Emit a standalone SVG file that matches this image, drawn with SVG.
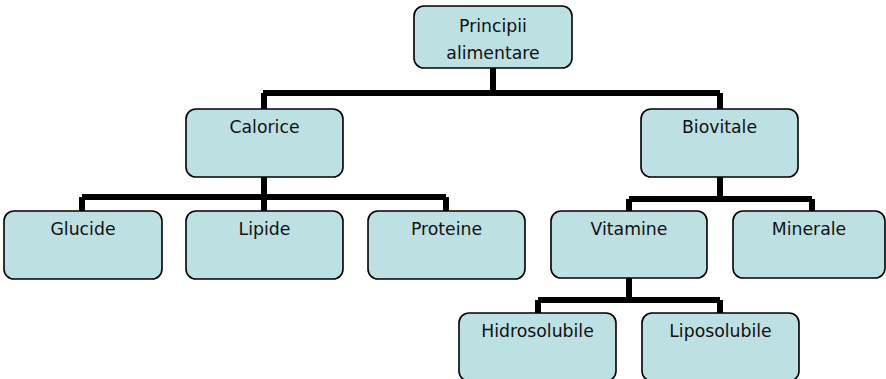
<svg xmlns="http://www.w3.org/2000/svg" width="886" height="379" viewBox="0 0 886 379">
<style>
.box{fill:#bde0e3;stroke:#000;stroke-width:1.6}
.lbl{font-family:"DejaVu Sans",sans-serif;font-size:17.3px;fill:#111;text-anchor:middle}
.con{fill:none;stroke:#000;stroke-width:6;stroke-linecap:butt;stroke-linejoin:miter}
</style>
<rect width="886" height="379" fill="#fff"/>
<g id="connectors">
<path class="con" d="M493,68V93M263,93H720M264,93V109M720,93V109"/>
<path class="con" d="M264,177V197M82,197H446M82,197V211M264,197V211M446,197V211"/>
<path class="con" d="M720,177V199M629,199H812M629,199V211M812,199V211"/>
<path class="con" d="M629,278V300M538,300H720M538,300V313M720,300V313"/>
</g>
<g id="n-principii"><rect class="box" x="414" y="6" width="158" height="62" rx="10"/><text class="lbl" x="493" y="32">Principii</text><text class="lbl" x="493" y="59">alimentare</text></g>
<g id="n-calorice"><rect class="box" x="186" y="109" width="157" height="68" rx="10"/><text class="lbl" x="264.5" y="133">Calorice</text></g>
<g id="n-biovitale"><rect class="box" x="641" y="109" width="157" height="68" rx="10"/><text class="lbl" x="719.5" y="133">Biovitale</text></g>
<g id="n-glucide"><rect class="box" x="4" y="211" width="158" height="68" rx="10"/><text class="lbl" x="83" y="235">Glucide</text></g>
<g id="n-lipide"><rect class="box" x="186" y="211" width="157" height="68" rx="10"/><text class="lbl" x="264.5" y="235">Lipide</text></g>
<g id="n-proteine"><rect class="box" x="368" y="211" width="157" height="68" rx="10"/><text class="lbl" x="446.5" y="235">Proteine</text></g>
<g id="n-vitamine"><rect class="box" x="551" y="211" width="156" height="67" rx="10"/><text class="lbl" x="629" y="235">Vitamine</text></g>
<g id="n-minerale"><rect class="box" x="733" y="211" width="152" height="67" rx="10"/><text class="lbl" x="809" y="235">Minerale</text></g>
<g id="n-hidrosolubile"><rect class="box" x="459" y="313" width="157" height="68" rx="10"/><text class="lbl" x="537.5" y="337">Hidrosolubile</text></g>
<g id="n-liposolubile"><rect class="box" x="642" y="313" width="157" height="68" rx="10"/><text class="lbl" x="720.5" y="337">Liposolubile</text></g>
</svg>
